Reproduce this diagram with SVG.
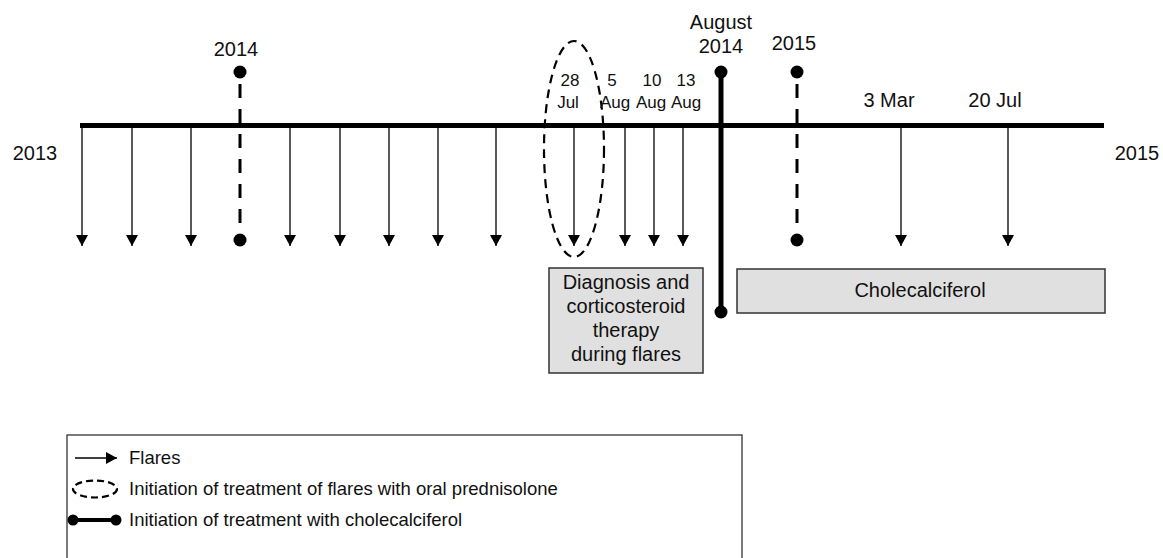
<svg xmlns="http://www.w3.org/2000/svg" width="1163" height="558" viewBox="0 0 1163 558">
<style>
text{font-family:"Liberation Sans",Arial,sans-serif;fill:#111}
.lbl{font-size:20px}
.sm{font-size:17px}
.lg{font-size:18.5px}
.flare{stroke:#000;stroke-width:1.3;fill:none}
.dash{stroke:#000;stroke-width:3;stroke-dasharray:14,11;fill:none}
.box{fill:#e0e0e0;stroke:#333;stroke-width:1.5}
</style>
<defs>
<marker id="ah" viewBox="0 0 11 12" refX="11" refY="6" markerWidth="11" markerHeight="12" markerUnits="userSpaceOnUse" orient="auto">
<path d="M0,0 L11,6 L0,12 Z" fill="#000"/>
</marker>
</defs>
<g id="axis">
<line x1="80" y1="125.5" x2="1104" y2="125.5" stroke="#000" stroke-width="5"/>
<text class="lbl" x="35" y="160" text-anchor="middle">2013</text>
<text class="lbl" x="1137" y="160" text-anchor="middle">2015</text>
</g>
<g id="connectors">
<line class="flare" x1="82" y1="125" x2="82" y2="246" marker-end="url(#ah)"/>
<line class="flare" x1="132" y1="125" x2="132" y2="246" marker-end="url(#ah)"/>
<line class="flare" x1="191" y1="125" x2="191" y2="246" marker-end="url(#ah)"/>
<line class="flare" x1="290" y1="125" x2="290" y2="246" marker-end="url(#ah)"/>
<line class="flare" x1="340" y1="125" x2="340" y2="246" marker-end="url(#ah)"/>
<line class="flare" x1="389" y1="125" x2="389" y2="246" marker-end="url(#ah)"/>
<line class="flare" x1="438" y1="125" x2="438" y2="246" marker-end="url(#ah)"/>
<line class="flare" x1="496" y1="125" x2="496" y2="246" marker-end="url(#ah)"/>
<line class="flare" x1="574" y1="125" x2="574" y2="246" marker-end="url(#ah)"/>
<line class="flare" x1="625" y1="125" x2="625" y2="246" marker-end="url(#ah)"/>
<line class="flare" x1="654" y1="125" x2="654" y2="246" marker-end="url(#ah)"/>
<line class="flare" x1="683" y1="125" x2="683" y2="246" marker-end="url(#ah)"/>
<line class="flare" x1="901" y1="125" x2="901" y2="246" marker-end="url(#ah)"/>
<line class="flare" x1="1008" y1="125" x2="1008" y2="246" marker-end="url(#ah)"/>
</g>
<g id="year2014">
<line class="dash" x1="240" y1="72" x2="240" y2="240" stroke-dashoffset="-12"/>
<circle cx="240" cy="72" r="6.5"/>
<circle cx="240" cy="240" r="6.5"/>
<text class="lbl" x="236" y="56" text-anchor="middle">2014</text>
</g>
<g id="year2015">
<line class="dash" x1="797" y1="72" x2="797" y2="240" stroke-dashoffset="-12"/>
<circle cx="797" cy="72" r="6.5"/>
<circle cx="797" cy="240" r="6.5"/>
<text class="lbl" x="794" y="50" text-anchor="middle">2015</text>
</g>
<g id="aug2014">
<line x1="721" y1="72" x2="721" y2="312" stroke="#000" stroke-width="5"/>
<circle cx="721" cy="72" r="6.5"/>
<circle cx="721" cy="312" r="6.5"/>
<text class="lbl" x="721" y="29" text-anchor="middle">August</text>
<text class="lbl" x="721" y="53" text-anchor="middle">2014</text>
</g>
<g id="prednisolone">
<ellipse cx="574" cy="149" rx="30" ry="108" fill="none" stroke="#000" stroke-width="2.2" stroke-dasharray="9,6"/>
</g>
<g id="dates">
<text class="sm" x="570" y="86" text-anchor="middle">28</text>
<text class="sm" x="568" y="108" text-anchor="middle">Jul</text>
<text class="sm" x="612" y="86" text-anchor="middle">5</text>
<text class="sm" x="615" y="108" text-anchor="middle">Aug</text>
<text class="sm" x="652" y="86" text-anchor="middle">10</text>
<text class="sm" x="651" y="108" text-anchor="middle">Aug</text>
<text class="sm" x="686" y="86" text-anchor="middle">13</text>
<text class="sm" x="686" y="108" text-anchor="middle">Aug</text>
<text class="lbl" x="889" y="107" text-anchor="middle">3 Mar</text>
<text class="lbl" x="995" y="107" text-anchor="middle">20 Jul</text>
</g>
<g id="diagnosis">
<rect class="box" x="549" y="268" width="154" height="105"/>
<text class="lbl" x="626" y="289" text-anchor="middle">Diagnosis and</text>
<text class="lbl" x="626" y="313" text-anchor="middle">corticosteroid</text>
<text class="lbl" x="626" y="337" text-anchor="middle">therapy</text>
<text class="lbl" x="626" y="361" text-anchor="middle">during flares</text>
</g>
<g id="cholecalciferol">
<rect class="box" x="737" y="269" width="368" height="44"/>
<text class="lbl" x="920" y="297" text-anchor="middle">Cholecalciferol</text>
</g>
<g id="legend">
<rect x="67" y="435" width="675" height="130" fill="#fff" stroke="#333" stroke-width="1.3"/>
<line class="flare" x1="75" y1="458" x2="117" y2="458" marker-end="url(#ah)"/>
<text class="lg" x="129" y="464">Flares</text>
<ellipse cx="95" cy="489" rx="22" ry="8.5" fill="none" stroke="#000" stroke-width="2.2" stroke-dasharray="7,4"/>
<text class="lg" x="129" y="495">Initiation of treatment of flares with oral prednisolone</text>
<line x1="73" y1="520" x2="116" y2="520" stroke="#000" stroke-width="4"/>
<circle cx="73" cy="520" r="5.5"/>
<circle cx="116" cy="520" r="5.5"/>
<text class="lg" x="129" y="526">Initiation of treatment with cholecalciferol</text>
</g>
</svg>
